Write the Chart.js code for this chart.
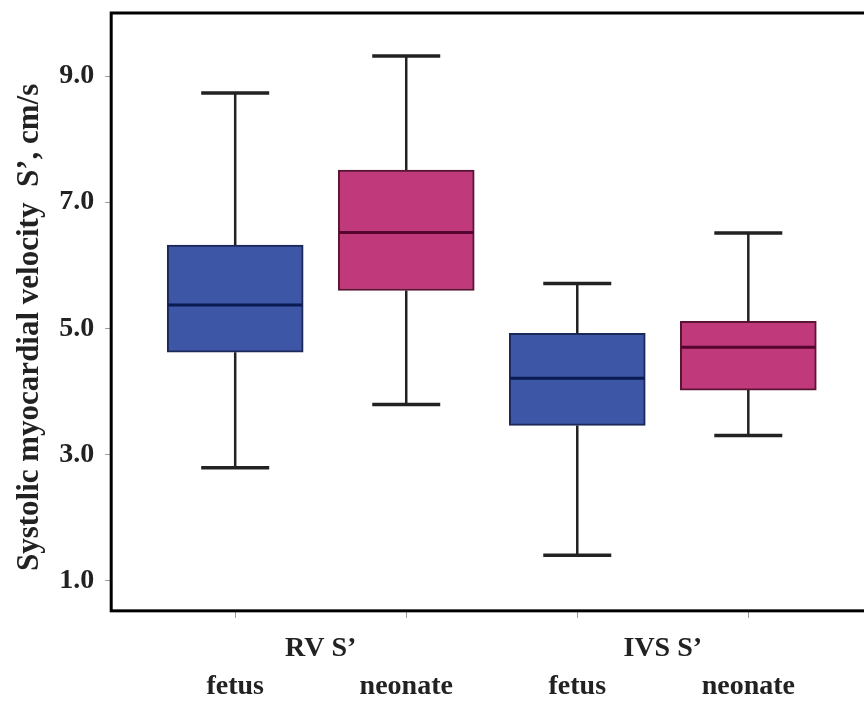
<!DOCTYPE html>
<html>
<head>
<meta charset="utf-8">
<script src="https://cdn.jsdelivr.net/npm/chart.js@4"></script>
<style>
  html, body { margin: 0; padding: 0; background: #fff; overflow: hidden; }
  #wrap { width: 880px; height: 718px; }
</style>
</head>
<body>
<div id="wrap"><canvas id="box"></canvas></div>
<script>
// valeurs
const groups = ["RV S’", "IVS S’"];
const subgroups = ["fetus", "neonate", "fetus", "neonate"];
const positions = [1, 2, 3, 4];
const whiskerLow = [2.79, 3.79, 1.40, 3.30];
const q1 = [4.62, 5.60, 3.46, 4.02];
const median = [5.37, 6.52, 4.21, 4.70];
const q3 = [6.32, 7.51, 4.92, 5.11];
const whiskerHigh = [8.73, 9.32, 5.71, 6.51];
const yTicks = [1, 3, 5, 7, 9];

const fills = ["#3d56a6", "#c03a7b", "#3d56a6", "#c03a7b"];
const borders = ["#1c2858", "#5a1434", "#1c2858", "#5a1434"];
const medianColors = ["#0a1a52", "#55062e", "#0a1a52", "#55062e"];

const serif = "'Liberation Serif', 'DejaVu Serif', serif";

// whiskers + médiane + cadre
const boxExtras = {
    id: "boxExtras",
    afterDatasetsDraw(chart) {
        const { ctx, scales: { x, y }, chartArea } = chart;
        const half = 68; // largeur des moustaches
        ctx.save();
        positions.forEach((p, i) => {
            const cx = x.getPixelForValue(p);
            ctx.strokeStyle = "#222";
            ctx.lineWidth = 2.5;
            ctx.beginPath();
            ctx.moveTo(cx, y.getPixelForValue(q3[i]));
            ctx.lineTo(cx, y.getPixelForValue(whiskerHigh[i]));
            ctx.moveTo(cx, y.getPixelForValue(q1[i]));
            ctx.lineTo(cx, y.getPixelForValue(whiskerLow[i]));
            ctx.stroke();
            ctx.lineWidth = 3.5;
            ctx.beginPath();
            ctx.moveTo(cx - half / 2, y.getPixelForValue(whiskerHigh[i]));
            ctx.lineTo(cx + half / 2, y.getPixelForValue(whiskerHigh[i]));
            ctx.moveTo(cx - half / 2, y.getPixelForValue(whiskerLow[i]));
            ctx.lineTo(cx + half / 2, y.getPixelForValue(whiskerLow[i]));
            ctx.stroke();
            // médiane
            const bar = chart.getDatasetMeta(0).data[i];
            ctx.strokeStyle = medianColors[i];
            ctx.lineWidth = 3;
            ctx.beginPath();
            ctx.moveTo(bar.x - bar.width / 2 + 1, y.getPixelForValue(median[i]));
            ctx.lineTo(bar.x + bar.width / 2 - 1, y.getPixelForValue(median[i]));
            ctx.stroke();
        });
        ctx.strokeStyle = "#000";
        ctx.lineWidth = 3;
        ctx.strokeRect(chartArea.left, chartArea.top, chartArea.right - chartArea.left, chartArea.bottom - chartArea.top);
        ctx.restore();
    }
};

// étiquettes x sur deux lignes : groupe au-dessus, sous-groupe en dessous
const xTickValues = [1, 1.5, 2, 3, 3.5, 4];
const xTickLabel = v => {
    if (v === 1.5) return [groups[0], ""];
    if (v === 3.5) return [groups[1], ""];
    const i = positions.indexOf(v);
    return i >= 0 ? ["", subgroups[i]] : "";
};

new Chart(document.getElementById("box"), {
    type: "bar",
    data: {
        datasets: [{
            data: positions.map((p, i) => ({ x: p, y: [q1[i], q3[i]] })),
            backgroundColor: fills,
            borderColor: borders,
            borderWidth: 2,
            borderSkipped: false,
            barThickness: 136
        }]
    },
    options: {
        responsive: true,
        maintainAspectRatio: false,
        animation: false,
        layout: { padding: { top: 13, left: 11, right: 0, bottom: 0 } },
        plugins: { legend: { display: false }, tooltip: { enabled: false } },
        scales: {
            x: {
                type: "linear",
                offset: false,
                min: 0.275,
                max: 4.77,
                afterBuildTicks: axis => { axis.ticks = xTickValues.map(v => ({ value: v })); },
                grid: {
                    offset: false,
                    drawOnChartArea: false,
                    tickLength: 7,
                    tickColor: c => (c.tick && (c.tick.value === 1.5 || c.tick.value === 3.5)) ? "rgba(0,0,0,0)" : "#999",
                    tickWidth: 1
                },
                border: { display: false },
                ticks: {
                    autoSkip: false,
                    maxRotation: 0,
                    padding: 12,
                    color: "#222",
                    font: { family: serif, weight: "bold", size: 28, lineHeight: 1.36 },
                    callback: v => xTickLabel(v)
                }
            },
            y: {
                min: 0.52,
                max: 10,
                afterBuildTicks: axis => { axis.ticks = yTicks.map(v => ({ value: v })); },
                grid: { drawOnChartArea: false, tickLength: 6, tickColor: "#999", tickWidth: 1 },
                border: { display: false },
                ticks: {
                    padding: 11,
                    color: "#222",
                    font: { family: serif, weight: "bold", size: 28, lineHeight: 0.1 },
                    callback: v => v.toFixed(1)
                },
                title: {
                    display: true,
                    text: "Systolic myocardial velocity  S’, cm/s\u00a0\u00a0\u00a0\u00a0",
                    color: "#222",
                    font: { family: serif, weight: "bold", size: 31 },
                    padding: { top: 0, bottom: 0 }
                }
            }
        }
    },
    plugins: [boxExtras]
});
</script>
</body>
</html>
